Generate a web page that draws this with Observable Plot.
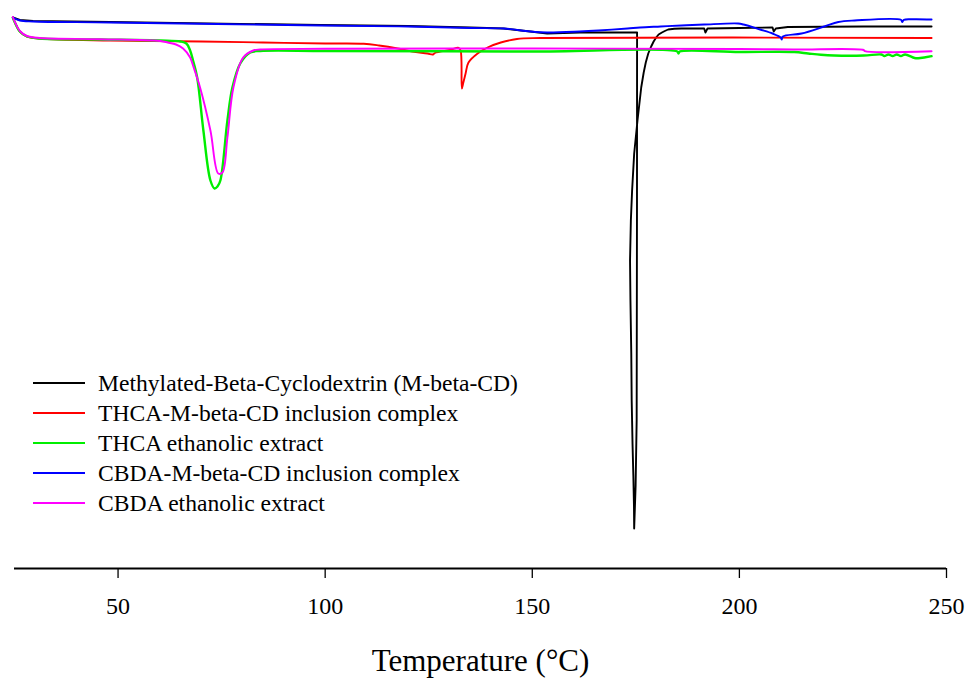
<!DOCTYPE html>
<html><head><meta charset="utf-8">
<script src="https://cdn.jsdelivr.net/npm/d3@7"></script>
<script src="https://cdn.jsdelivr.net/npm/@observablehq/plot@0.6"></script>
<style>
body{margin:0;background:#fff;}
#wrap{position:relative;width:968px;height:679px;}
#wrap svg{position:absolute;left:0;top:0;}
#legend{position:absolute;left:33px;top:368px;font-family:"Liberation Serif","Times New Roman",serif;font-size:23.6px;color:#000;}
.row{display:flex;align-items:center;height:30px;white-space:nowrap;}
.sw{width:52px;height:0;border-top:2px solid;margin-right:13px;}
</style></head><body>
<div id="wrap"><div id="legend"></div></div>
<script>
// Series names and colours
const seriesNames = [
  "Methylated-Beta-Cyclodextrin (M-beta-CD)",
  "THCA-M-beta-CD inclusion complex",
  "THCA ethanolic extract",
  "CBDA-M-beta-CD inclusion complex",
  "CBDA ethanolic extract"
];
const seriesColors = ["#000000", "#ff0000", "#00ee00", "#0000ff", "#ff00ff"];
const xTicks = [50, 100, 150, 200, 250];
const xLabel = "Temperature (\u00B0C)";

// Temperature (°C) and heat flow (arbitrary units)
const mbcdT = [24.6, 26.3, 29.5, 48.1, 98.9, 120, 135, 143.1, 149.5, 153.6, 161.4, 172.1, 175.3, 175.28, 175.2, 174.95, 174.6, 174.55, 174.4, 174.2, 174.0, 173.9, 173.7, 173.6, 173.8, 174.1, 174.6, 175.4, 176.3, 176.9, 177.4, 178.0, 178.7, 179.3, 179.9, 180.5, 181.3, 182.0, 182.8, 184.3, 186.0, 191.5, 191.8, 192.3, 200.0, 208.0, 208.3, 208.8, 211.7, 230.0, 246.4];
const mbcdH = [-0.17, -0.195, -0.205, -0.215, -0.245, -0.255, -0.27, -0.28, -0.31, -0.33, -0.32, -0.32, -0.32, -2.00, -4.20, -4.85, -5.28, -5.05, -4.75, -4.43, -4.00, -3.53, -3.00, -2.60, -2.20, -1.90, -1.53, -1.20, -0.87, -0.72, -0.62, -0.53, -0.46, -0.41, -0.37, -0.34, -0.32, -0.305, -0.29, -0.283, -0.28, -0.28, -0.32, -0.28, -0.275, -0.27, -0.31, -0.28, -0.265, -0.26, -0.26];

const thcaCxT = [24.6, 25.1, 26.3, 28.0, 31.1, 48.1, 70.0, 85.0, 100.0, 109.3, 113.0, 117.5, 121.0, 124.7, 126.0, 126.5, 130.3, 132.2, 132.7, 133.0, 133.3, 133.9, 134.6, 136.8, 139.2, 142.4, 146.3, 151.9, 246.4];
const thcaCxH = [-0.17, -0.22, -0.31, -0.36, -0.38, -0.40, -0.41, -0.42, -0.43, -0.433, -0.45, -0.48, -0.51, -0.53, -0.54, -0.525, -0.493, -0.473, -0.50, -0.88, -0.83, -0.73, -0.62, -0.53, -0.47, -0.42, -0.385, -0.375, -0.375];

const thcaExT = [24.6, 25.1, 26.3, 28.0, 31.1, 45.7, 60.2, 65.1, 66.5, 67.4, 68.1, 69.1, 70.6, 72.3, 73.3, 74.0, 74.7, 76.4, 77.6, 79.5, 81.9, 84.3, 100, 150, 185.0, 185.3, 185.6, 200, 213.2, 216.6, 219.7, 222.9, 230.0, 234.3, 235.0, 236.0, 237.0, 238.0, 239.0, 240.0, 242.3, 243.2, 246.4];
const thcaExH = [-0.17, -0.22, -0.31, -0.36, -0.38, -0.39, -0.40, -0.41, -0.43, -0.50, -0.60, -0.77, -1.30, -1.80, -1.88, -1.86, -1.80, -1.20, -0.87, -0.63, -0.52, -0.505, -0.505, -0.51, -0.51, -0.53, -0.51, -0.515, -0.515, -0.53, -0.543, -0.55, -0.55, -0.54, -0.555, -0.54, -0.555, -0.54, -0.555, -0.54, -0.575, -0.577, -0.557];

const cbdaCxT = [24.6, 26.3, 29.5, 48.1, 98.9, 120, 135, 143.1, 149.5, 153.6, 161.4, 166.0, 173.0, 176.0, 181.0, 186.0, 191.5, 199.7, 201.0, 205.0, 208.0, 210.0, 210.2, 210.5, 215.0, 220.5, 223.9, 227.8, 239.0, 239.3, 239.7, 242.0, 246.4];
const cbdaCxH = [-0.17, -0.20, -0.21, -0.22, -0.25, -0.26, -0.275, -0.28, -0.31, -0.32, -0.31, -0.30, -0.28, -0.27, -0.26, -0.25, -0.24, -0.23, -0.24, -0.29, -0.33, -0.37, -0.39, -0.36, -0.33, -0.26, -0.215, -0.20, -0.193, -0.215, -0.193, -0.188, -0.19];

const cbdaExT = [24.6, 25.1, 26.3, 28.0, 31.1, 45.7, 60.2, 62.0, 64.0, 65.7, 67.4, 68.1, 69.8, 72.3, 74.2, 75.2, 76.4, 77.85, 80.2, 82.65, 84.3, 100, 150, 200, 213, 230.0, 230.3, 246.4];
const cbdaExH = [-0.165, -0.215, -0.305, -0.355, -0.375, -0.387, -0.405, -0.42, -0.44, -0.48, -0.57, -0.65, -0.87, -1.30, -1.73, -1.72, -1.37, -0.87, -0.57, -0.50, -0.49, -0.483, -0.48, -0.485, -0.49, -0.495, -0.507, -0.507];

const seriesT = [mbcdT, thcaCxT, thcaExT, cbdaCxT, cbdaExT];
const seriesH = [mbcdH, thcaCxH, thcaExH, cbdaCxH, cbdaExH];

const rows = seriesNames.flatMap((name, i) =>
  seriesT[i].map((t, j) => ({series: name, order: j, T: t, H: seriesH[i][j]})));

const yMin = -5.68, yMax = 0;

const lines = seriesNames.map((name, i) =>
  Plot.line(rows.filter(d => d.series === name), {
    x: "T", y: "H", stroke: seriesColors[i],
    strokeWidth: i === 2 ? 2.4 : 1.9, curve: i === 0 ? "linear" : "catmull-rom"
  }));

const chart = Plot.plot({
  width: 968, height: 679,
  marginLeft: 14, marginRight: 22, marginTop: 0, marginBottom: 111,
  style: {background: "#fff", fontFamily: "'Liberation Serif','Times New Roman',serif", overflow: "visible"},
  x: {domain: [25, 250]},
  y: {domain: [yMin, yMax], axis: null},
  marks: [
    Plot.ruleY([yMin], {stroke: "#000", strokeWidth: 2}),
    Plot.axisX({ticks: xTicks, tickSize: 10, tickPadding: 18, fontSize: 24, tickFormat: d => String(d), label: null, stroke: "#000", strokeWidth: 1.3, color: "#000"}),
    Plot.text([xLabel], {frameAnchor: "bottom", dy: 93, lineAnchor: "middle", fontSize: 31, fill: "#000"}),
    ...lines
  ]
});
document.getElementById("wrap").prepend(chart);

const legend = document.getElementById("legend");
seriesNames.forEach((name, i) => {
  const row = document.createElement("div");
  row.className = "row";
  const sw = document.createElement("span");
  sw.className = "sw";
  sw.style.borderTopColor = seriesColors[i];
  const tx = document.createElement("span");
  tx.textContent = name;
  row.append(sw, tx);
  legend.append(row);
});
</script>
</body></html>
